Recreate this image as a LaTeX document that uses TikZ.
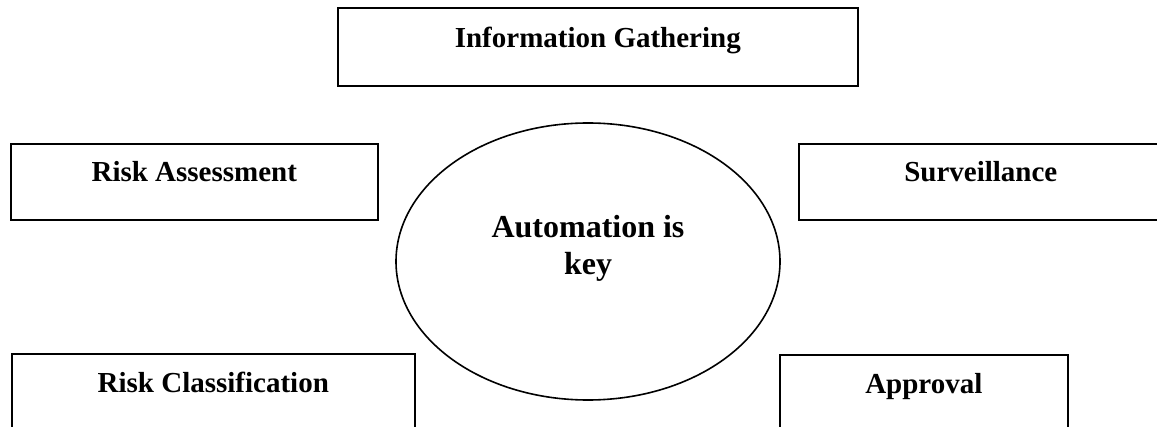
\documentclass[tikz,border=0pt]{standalone}
\usepackage{fontspec}
\setmainfont{Liberation Serif}
\usetikzlibrary{shapes.geometric}

\begin{document}
\begin{tikzpicture}[x=0.5pt,y=-0.5pt,line width=0.8pt,
  stage/.style n args={2}{rectangle,draw,anchor=north west,inner sep=0pt,minimum width=#1,minimum height=#2,text height=19pt,text depth=19pt,font=\fontsize{14.5pt}{17pt}\selectfont\bfseries},
  hubshape/.style={ellipse,draw,inner sep=0pt,minimum width=192pt,minimum height=138.5pt},
  hubtext/.style={align=center,inner sep=0pt,font=\fontsize{16pt}{18.5pt}\selectfont\bfseries}]
\useasboundingbox (0,0) rectangle (1157,427);
\node[stage={260pt}{39pt},text height=20pt] (info) at (337,7) {Information Gathering};
\node[stage={183.5pt}{38pt}] (assess) at (10,143) {Risk Assessment};
\node[stage={182pt}{38pt}] (surv) at (798,143) {Surveillance};
\node[stage={201.5pt}{38.5pt}] (classify) at (11,353) {Risk Classification};
\node[stage={144pt}{38.5pt}] (approve) at (779,354) {Approval};
\node[hubshape] (hub) at (588,261.5) {};
\node[hubtext] (key) at ([yshift=6.75pt]hub.center) {Automation is\\key};
\end{tikzpicture}
\end{document}
